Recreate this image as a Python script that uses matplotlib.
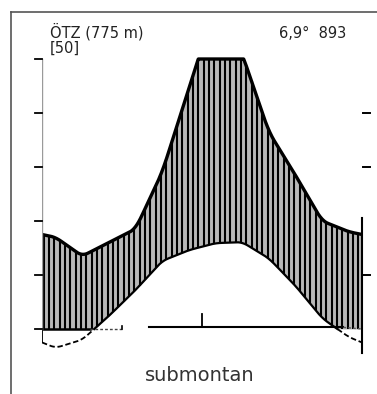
import matplotlib
matplotlib.use("Agg")

import matplotlib.pyplot as plt
from matplotlib.lines import Line2D
import numpy as np

# monthly means, Jan..Dec
months = ["J", "F", "M", "A", "M", "J", "J", "A", "S", "O", "N", "D"]
temp_c = [-3.5, -2.0, 2.4, 7.2, 12.6, 14.6, 15.9, 16.1, 13.1, 8.0, 2.0, -1.5]
precip_mm = [34, 27, 32, 37, 58, 89, 120, 102, 73, 57, 40, 36]

station = "ÖTZ (775 m)"
years = "[50]"
summary = "6,9°  893"
zone = "submontan"

N = 1200
xf = np.linspace(0, 12, N)


def year_curve(values, width=0.45):
    """Monthly values joined at month centres, corners rounded by a short box filter."""
    step = xf[1] - xf[0]
    k = max(int(width / step), 1)
    pad = k
    xx = np.linspace(-pad * step, 12 + pad * step, N + 2 * pad)
    yy = np.interp(xx, np.arange(12) + 0.5, np.asarray(values, dtype=float), period=12)
    sm = np.convolve(yy, np.ones(k) / k, mode="same")
    return sm[pad:pad + N]


W, H = 377, 394
fig = plt.figure(figsize=(W / 100, H / 100), dpi=100)

# scanned frame, open on the right and bottom
fig.add_artist(Line2D([11 / W, 11 / W], [0, 1 - 12 / H], color="#555555", lw=1.2))
fig.add_artist(Line2D([11 / W, 1], [1 - 12 / H, 1 - 12 / H], color="#555555", lw=1.2))

# 0 degC sits at y=329 px, 10 degC = 54 px
y0_px, px_per_deg = 329, 5.4
t_lo, t_hi = -5.0, 52.0
bot_px = y0_px - t_lo * px_per_deg
top_px = y0_px - t_hi * px_per_deg
ax = fig.add_axes([42 / W, 1 - bot_px / H, 320 / W, (bot_px - top_px) / H])
ax.set_xlim(0, 12)
ax.set_ylim(t_lo, t_hi)
ax.axis("off")

# Walter-Lieth scaling: 10 degC = 20 mm, curve capped at 100 mm
tf = year_curve(temp_c)
pf = np.minimum(year_curve(np.array(precip_mm) / 2.0), 50.0)
lower = np.maximum(tf, 0.0)

# humid period: grey tone plus dense vertical hatching
ax.fill_between(xf, lower, pf, color="#b8b8b8", lw=0)
xs = np.arange(0.06, 12.0, 0.2)
ax.vlines(xs, np.interp(xs, xf, lower), np.interp(xs, xf, pf), color="black", lw=1.5)

ax.plot(xf, pf, color="black", lw=2.4, solid_capstyle="butt")
ax.plot(xf, np.where(tf >= 0, tf, np.nan), color="black", lw=1.6)
ax.plot(xf, np.where(tf <= 0, tf, np.nan), color="black", lw=1.3, ls=(0, (3, 1.5)))
ax.plot([0, 0], [0, tf[0]], color="black", lw=1.3)

# zero line with a gap, as on the original sheet
ax.plot([0, 1.8], [0, 0], color="black", lw=1.8)
ax.plot([1.8, 3.0], [0, 0], color="#444444", lw=1.0, ls=(0, (2, 1.5)))
ax.plot([3.0, 3.0], [0, 0.6], color="black", lw=1.2)
ax.plot([4.0, 11.3], [0.3, 0.3], color="black", lw=1.5)
ax.plot([6.0, 6.0], [0.3, 2.8], color="black", lw=1.3)
ax.plot([11.3, 12.0], [0.3, 0.0], color="#555555", lw=1.0, ls=(0, (2, 1.5)))

# left temperature axis
ax.plot([0, 0], [0, 50], color="#9a9a9a", lw=1.0)
for v in range(0, 60, 10):
    ax.plot([-0.28, 0], [v, v], color="black", lw=1.3, clip_on=False)

# right precipitation axis
ax.plot([12, 12], [-4.5, 20.5], color="black", lw=1.5, clip_on=False)
for v in (10, 30, 40):
    ax.plot([12.05, 12.3], [v, v], color="black", lw=1.4, clip_on=False)

txt = dict(color="#222222", fontsize=10.5, family=["DejaVu Sans"])
fig.text(50 / W, 1 - 38 / H, station, ha="left", va="baseline", **txt)
fig.text(50 / W, 1 - 53 / H, years, ha="left", va="baseline", **txt)
fig.text(346 / W, 1 - 38 / H, summary, ha="right", va="baseline", **txt)

fig.text(200 / W, 1 - 381 / H, zone, ha="center", va="baseline",
         fontsize=14, color="#333333", family=["DejaVu Sans"])

fig.savefig("out.png", dpi=100, facecolor="white")
